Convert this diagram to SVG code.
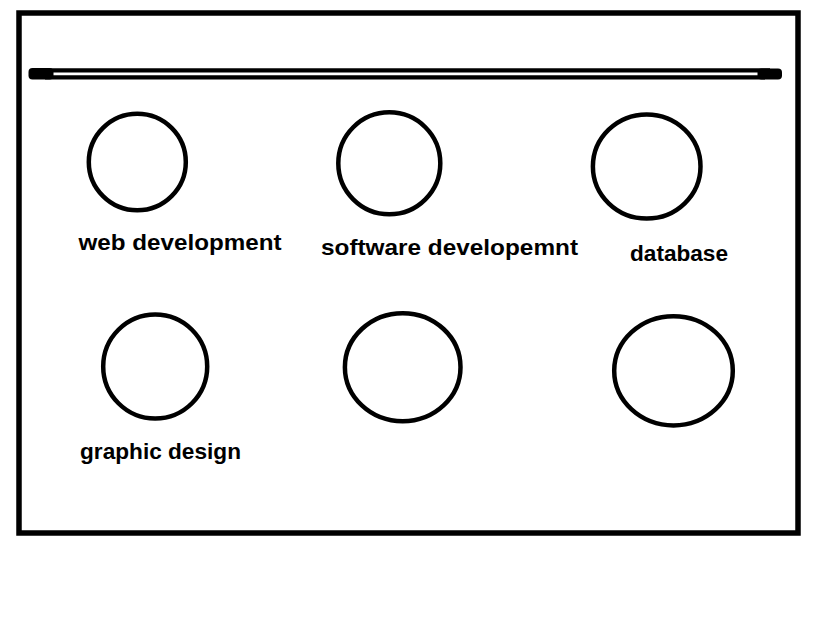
<svg xmlns="http://www.w3.org/2000/svg" width="822" height="634" viewBox="0 0 822 634">
  <style>
    .ring { fill: none; stroke: #000; stroke-width: 4.5; }
    .lbl { font-family: "Liberation Sans", Arial, sans-serif; font-weight: bold; font-size: 21.5px; fill: #000; }
    .bar { stroke: #000; stroke-width: 4.2; fill: none; }
  </style>
  <rect width="822" height="634" fill="#fff"/>
  <g id="frame">
    <rect x="19" y="13" width="779" height="520" fill="none" stroke="#000" stroke-width="5.5"/>
    <line class="bar" x1="45" y1="70.4" x2="770" y2="70.4"/>
    <line class="bar" x1="45" y1="77.3" x2="765" y2="77.3"/>
    <rect x="28.5" y="68" width="25" height="11.5" rx="4" fill="#000"/>
    <rect x="757.5" y="68.5" width="24.5" height="11" rx="4" fill="#000"/>
  </g>
  <g id="connectors"/>
  <g id="node-web-development">
    <ellipse class="ring" cx="137.3" cy="162" rx="48.5" ry="48.3"/>
    <text class="lbl" x="78.5" y="250" textLength="203" lengthAdjust="spacingAndGlyphs">web development</text>
  </g>
  <g id="node-software-development">
    <ellipse class="ring" cx="389.3" cy="163.3" rx="51" ry="51"/>
    <text class="lbl" x="321" y="254.7" textLength="257" lengthAdjust="spacingAndGlyphs">software developemnt</text>
  </g>
  <g id="node-database">
    <ellipse class="ring" cx="646.7" cy="166.5" rx="53.8" ry="52"/>
    <text class="lbl" x="630" y="261" textLength="98" lengthAdjust="spacingAndGlyphs">database</text>
  </g>
  <g id="node-graphic-design">
    <ellipse class="ring" cx="155.2" cy="366.5" rx="52" ry="52"/>
    <text class="lbl" x="80" y="459" textLength="161" lengthAdjust="spacingAndGlyphs">graphic design</text>
  </g>
  <g id="node-bottom-middle">
    <ellipse class="ring" cx="402.7" cy="367.2" rx="57.8" ry="54"/>
  </g>
  <g id="node-bottom-right">
    <ellipse class="ring" cx="673.5" cy="370.8" rx="59.3" ry="54.6"/>
  </g>
</svg>
